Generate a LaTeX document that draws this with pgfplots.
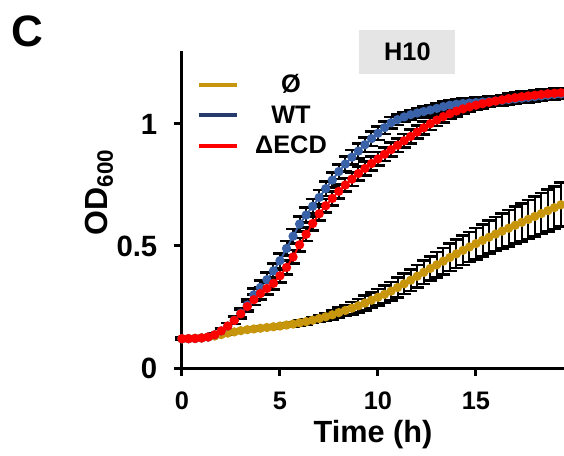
\documentclass[border=0pt]{standalone}
\usepackage{pgfplots}
\pgfplotsset{compat=1.18}
\usepackage{pgfplotstable}
\usepackage{fontspec}
\setmainfont{Liberation Sans}

\definecolor{gold}{RGB}{200,150,12}
\definecolor{wtblue}{RGB}{58,98,168}
\definecolor{wtnavy}{RGB}{38,58,107}
\definecolor{ecdred}{RGB}{255,0,0}
\definecolor{boxgray}{RGB}{229,229,229}

% OD600 growth curves, strain H10, mean and error every 20 min
\pgfplotstableread{
t      gold  goldE  wt    wtE   red   redE
0.000  0.120 0.004  0.120 0.005 0.120 0.005
0.333  0.121 0.004  0.120 0.005 0.120 0.005
0.667  0.122 0.004  0.121 0.005 0.121 0.005
1.000  0.124 0.004  0.123 0.005 0.123 0.005
1.333  0.127 0.004  0.127 0.006 0.127 0.006
1.667  0.131 0.004  0.136 0.008 0.136 0.008
2.000  0.137 0.005  0.152 0.010 0.152 0.010
2.333  0.143 0.005  0.172 0.012 0.172 0.012
2.667  0.148 0.005  0.196 0.015 0.195 0.015
3.000  0.153 0.005  0.225 0.018 0.222 0.018
3.333  0.157 0.005  0.258 0.022 0.252 0.020
3.667  0.160 0.005  0.300 0.025 0.280 0.022
4.000  0.163 0.006  0.330 0.028 0.305 0.024
4.333  0.166 0.006  0.362 0.030 0.326 0.025
4.667  0.169 0.006  0.398 0.030 0.347 0.026
5.000  0.172 0.007  0.440 0.030 0.378 0.027
5.333  0.176 0.008  0.490 0.030 0.412 0.028
5.667  0.180 0.009  0.540 0.030 0.455 0.028
6.000  0.185 0.010  0.590 0.030 0.505 0.028
6.333  0.190 0.011  0.627 0.030 0.548 0.028
6.667  0.196 0.012  0.663 0.030 0.592 0.028
7.000  0.203 0.014  0.699 0.030 0.632 0.028
7.333  0.210 0.016  0.735 0.030 0.665 0.028
7.667  0.218 0.018  0.770 0.030 0.695 0.028
8.000  0.227 0.020  0.805 0.030 0.724 0.028
8.333  0.236 0.022  0.836 0.030 0.750 0.028
8.667  0.245 0.025  0.864 0.030 0.774 0.028
9.000  0.255 0.028  0.889 0.030 0.797 0.028
9.333  0.266 0.030  0.915 0.030 0.818 0.028
9.667  0.278 0.032  0.940 0.030 0.838 0.028
10.000 0.290 0.034  0.962 0.028 0.857 0.028
10.333 0.302 0.036  0.985 0.026 0.876 0.028
10.667 0.315 0.038  1.005 0.024 0.895 0.028
11.000 0.330 0.040  1.018 0.022 0.913 0.028
11.333 0.345 0.042  1.029 0.020 0.931 0.028
11.667 0.360 0.044  1.038 0.020 0.949 0.028
12.000 0.376 0.046  1.045 0.020 0.967 0.027
12.333 0.392 0.048  1.051 0.020 0.984 0.026
12.667 0.408 0.050  1.057 0.020 1.001 0.025
13.000 0.423 0.052  1.064 0.020 1.016 0.024
13.333 0.438 0.054  1.071 0.020 1.030 0.023
13.667 0.453 0.056  1.077 0.020 1.042 0.022
14.000 0.468 0.058  1.081 0.020 1.053 0.021
14.333 0.482 0.060  1.084 0.020 1.062 0.020
14.667 0.496 0.062  1.086 0.020 1.070 0.020
15.000 0.510 0.064  1.088 0.020 1.077 0.020
15.333 0.523 0.066  1.090 0.020 1.083 0.020
15.667 0.536 0.068  1.092 0.020 1.089 0.020
16.000 0.549 0.070  1.094 0.020 1.094 0.020
16.333 0.561 0.072  1.097 0.020 1.099 0.020
16.667 0.573 0.074  1.100 0.020 1.104 0.020
17.000 0.585 0.076  1.103 0.020 1.108 0.020
17.333 0.597 0.078  1.106 0.020 1.112 0.020
17.667 0.609 0.080  1.109 0.020 1.115 0.020
18.000 0.621 0.082  1.112 0.020 1.118 0.020
18.333 0.633 0.084  1.115 0.020 1.121 0.020
18.667 0.645 0.086  1.118 0.020 1.124 0.020
19.000 0.657 0.088  1.121 0.020 1.126 0.020
19.333 0.669 0.090  1.123 0.020 1.128 0.020
}\growth

\pgfplotsset{
  curve/.style={line width=1.4pt, mark=*, mark size=2.75pt,
    mark options={solid, fill=#1, draw=#1}, color=#1, forget plot},
  bars/.style={only marks, mark=none, forget plot,
    error bars/.cd, y dir=both, y explicit,
    error bar style={black, line width=1.5pt},
    error mark options={rotate=90, mark size=5pt, line width=2pt, black}},
}

\begin{document}
\begin{tikzpicture}
\useasboundingbox (-136.5pt,-65.25pt) rectangle (286.5pt,276pt);
\begin{axis}[
  at={(0pt,0pt)}, anchor=origin,
  scale only axis,
  width=286.5pt, height=237pt,
  xmin=0, xmax=19.49,
  ymin=0, ymax=1.295,
  axis x line=bottom, axis y line=left,
  axis line style={-, line width=2.25pt, line cap=rect},
  xtick={0,5,10,15},
  ytick={0,0.5,1},
  tick align=outside,
  major tick length=6pt,
  tick style={line width=2.25pt, black},
  /pgf/number format/assume math mode=true,
  xticklabel style={font=\bfseries\fontsize{19}{19}\selectfont, yshift=-8.5pt},
  yticklabel style={font=\bfseries\fontsize{22}{22}\selectfont, xshift=-9pt},
  xlabel={Time (h)},
  xlabel style={at={(axis description cs:0.5,-0.237)}, anchor=base,
    font=\bfseries\fontsize{23}{23}\selectfont},
  ylabel={OD\textsubscript{600}},
  ylabel style={at={(axis description cs:-0.194,0.557)}, anchor=base,
    font=\bfseries\fontsize{24}{24}\selectfont},
  legend style={at={(axis description cs:0.028,0.938)}, anchor=north west,
    draw=none, fill=none, row sep=8pt,
    nodes={inner xsep=4pt, inner ysep=0pt},
    font=\bfseries\fontsize{19}{19}\selectfont},
  legend cell align=center,
  legend image code/.code={\draw[#1] (0pt,0pt) -- (28.5pt,0pt);},
  clip=false,
]
\addlegendimage{gold, line width=3pt}
\addlegendentry{\makebox[70pt]{\strut Ø}}
\addlegendimage{wtnavy, line width=3pt}
\addlegendentry{\makebox[70pt]{\strut WT}}
\addlegendimage{ecdred, line width=3pt}
\addlegendentry{\makebox[70pt]{\strut ΔECD}}

\addplot[bars] table[x=t, y=gold, y error=goldE] {\growth};
\addplot[curve=gold] table[x=t, y=gold] {\growth};
\addplot[bars] table[x=t, y=wt, y error=wtE] {\growth};
\addplot[curve=wtblue] table[x=t, y=wt] {\growth};
\addplot[bars] table[x=t, y=red, y error=redE] {\growth};
\addplot[curve=ecdred] table[x=t, y=red] {\growth};

\node[fill=boxgray, minimum width=72pt, minimum height=33pt,
  font=\bfseries\fontsize{19}{19}\selectfont]
  at (axis description cs:0.590,1.0) {H10};
\node[font=\bfseries\fontsize{33}{33}\selectfont]
  at (axis description cs:-0.406,1.066) {C};
\end{axis}
\end{tikzpicture}
\end{document}
